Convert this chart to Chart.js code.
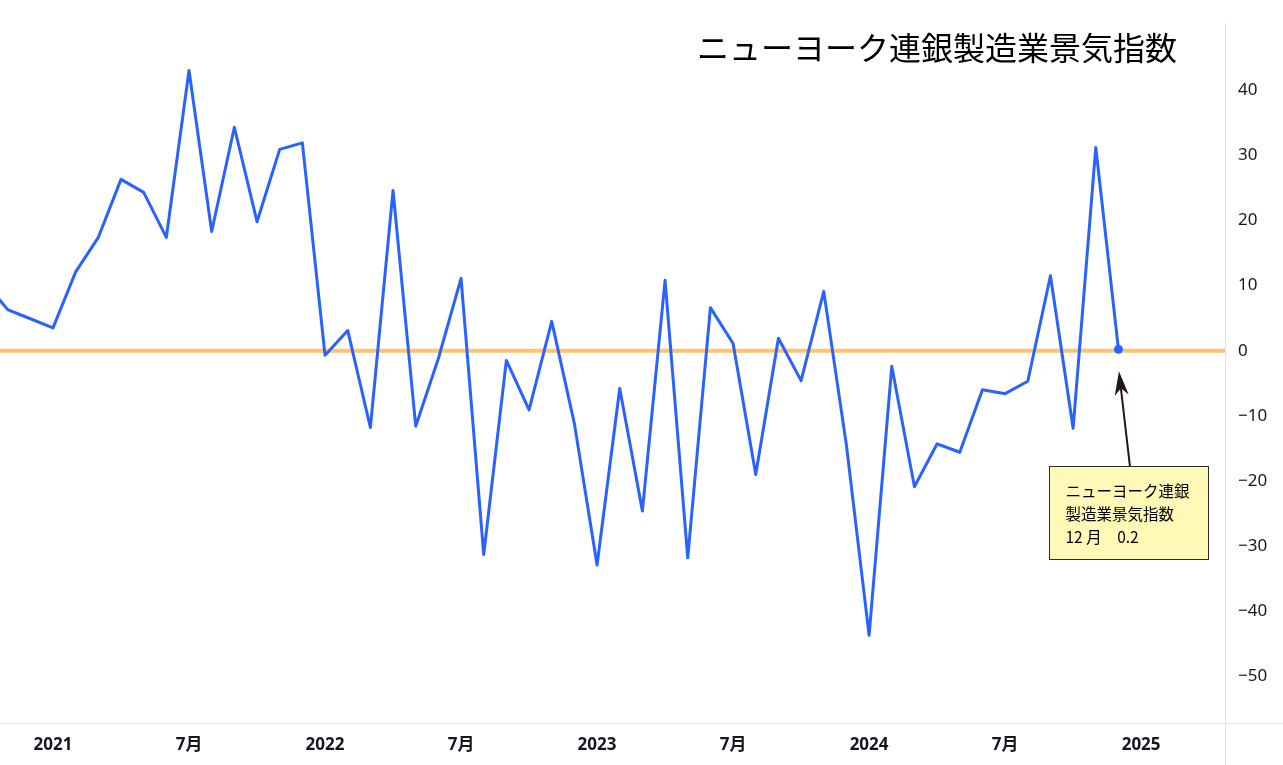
<!DOCTYPE html>
<html lang="ja">
<head>
<meta charset="utf-8">
<title>ニューヨーク連銀製造業景気指数</title>
<script src="https://cdn.jsdelivr.net/npm/chart.js@4"></script>
<style>
  html, body { margin: 0; padding: 0; background: #ffffff; }
  #wrap { width: 1283px; height: 765px; }
</style>
</head>
<body>
<div id="wrap"><canvas id="chart" width="1283" height="765"></canvas></div>
<script>
const titleText = 'ニューヨーク連銀製造業景気指数';

// monthly readings, Oct 2020 .. Dec 2024
const months = [
  '2020-10', '2020-11', '2020-12',
  '2021-01', '2021-02', '2021-03', '2021-04', '2021-05', '2021-06',
  '2021-07', '2021-08', '2021-09', '2021-10', '2021-11', '2021-12',
  '2022-01', '2022-02', '2022-03', '2022-04', '2022-05', '2022-06',
  '2022-07', '2022-08', '2022-09', '2022-10', '2022-11', '2022-12',
  '2023-01', '2023-02', '2023-03', '2023-04', '2023-05', '2023-06',
  '2023-07', '2023-08', '2023-09', '2023-10', '2023-11', '2023-12',
  '2024-01', '2024-02', '2024-03', '2024-04', '2024-05', '2024-06',
  '2024-07', '2024-08', '2024-09', '2024-10', '2024-11', '2024-12'
];
const values = [
  10.5, 6.3, 4.9,
  3.5, 12.1, 17.4, 26.3, 24.3, 17.4,
  43.0, 18.3, 34.3, 19.8, 30.9, 31.9,
  -0.7, 3.1, -11.8, 24.6, -11.6, -1.2,
  11.1, -31.3, -1.5, -9.1, 4.5, -11.2,
  -32.9, -5.8, -24.6, 10.8, -31.8, 6.6,
  1.1, -19.0, 1.9, -4.6, 9.1, -14.5,
  -43.7, -2.4, -20.9, -14.3, -15.6, -6.0,
  -6.6, -4.7, 11.5, -11.9, 31.2, 0.2
];

const xTicks = [0, 6, 12, 18, 24, 30, 36, 42, 48];
const xTickLabels = ['2021', '7月', '2022', '7月', '2023', '7月', '2024', '7月', '2025'];
const yTicks = [-50, -40, -30, -20, -10, 0, 10, 20, 30, 40];

const noteLines = ['ニューヨーク連銀', '製造業景気指数', '12 月　0.2'];

const colors = {
  line: '#2962ff',
  zero: '#ffc36e',
  text: '#131722',
  border: '#e0e3eb',
  noteFill: '#fff9b8',
  noteEdge: '#2b2b2b',
  arrow: '#231815'
};

function monthIndex(m) {
  const [y, mo] = m.split('-').map(Number);
  return (y - 2021) * 12 + (mo - 1);
}

const points = months.map((m, i) => ({ x: monthIndex(m), y: values[i] }));
const lastIdx = points.length - 1;

const decorations = {
  id: 'decorations',
  beforeDatasetsDraw(chart) {
    const { ctx, chartArea: a, scales: { y } } = chart;
    const y0 = y.getPixelForValue(0);
    ctx.save();
    ctx.strokeStyle = colors.zero;
    ctx.lineWidth = 4;
    ctx.beginPath();
    ctx.moveTo(a.left, y0);
    ctx.lineTo(a.right, y0);
    ctx.stroke();
    ctx.restore();
  },
  afterDraw(chart) {
    const { ctx, chartArea: a } = chart;
    const W = chart.width, H = chart.height;
    ctx.save();
    // frame lines
    ctx.strokeStyle = colors.border;
    ctx.lineWidth = 1;
    ctx.beginPath();
    ctx.moveTo(a.right + 0.5, a.top);
    ctx.lineTo(a.right + 0.5, H);
    ctx.moveTo(0, a.bottom + 0.5);
    ctx.lineTo(W, a.bottom + 0.5);
    ctx.stroke();

    // title
    ctx.fillStyle = '#000000';
    ctx.font = '400 32px "Noto Sans CJK JP", "Noto Sans"';
    ctx.textAlign = 'right';
    ctx.textBaseline = 'middle';
    ctx.fillText(titleText, 1177, 48);

    // note box + arrow for the last reading
    const pt = chart.getDatasetMeta(0).data[lastIdx];
    const px = pt.x, py = pt.y;
    const tipX = px + 0.5, tipY = py + 22;
    const baseX = px + 11.5, baseY = py + 117;
    const ang = Math.atan2(baseY - tipY, baseX - tipX);
    ctx.strokeStyle = colors.arrow;
    ctx.fillStyle = colors.arrow;
    ctx.lineWidth = 2;
    ctx.beginPath();
    ctx.moveTo(baseX, baseY);
    ctx.lineTo(tipX + Math.cos(ang) * 12, tipY + Math.sin(ang) * 12);
    ctx.stroke();
    const headLen = 24, headW = 7;
    const hx = tipX + Math.cos(ang) * headLen, hy = tipY + Math.sin(ang) * headLen;
    const nx = -Math.sin(ang), ny = Math.cos(ang);
    ctx.beginPath();
    ctx.moveTo(tipX, tipY);
    ctx.lineTo(hx + nx * headW, hy + ny * headW);
    ctx.lineTo(tipX + Math.cos(ang) * 17, tipY + Math.sin(ang) * 17);
    ctx.lineTo(hx - nx * headW, hy - ny * headW);
    ctx.closePath();
    ctx.fill();

    const bx = Math.round(px - 69.5) + 0.5, by = Math.round(py + 116.5) + 0.5;
    ctx.fillStyle = colors.noteFill;
    ctx.fillRect(bx, by, 159, 93);
    ctx.strokeStyle = colors.noteEdge;
    ctx.lineWidth = 1;
    ctx.strokeRect(bx, by, 159, 93);
    ctx.fillStyle = '#000000';
    ctx.font = '400 15.5px "Noto Sans CJK JP", "Noto Sans"';
    ctx.textAlign = 'left';
    ctx.textBaseline = 'middle';
    noteLines.forEach((t, i) => ctx.fillText(t, bx + 16, by + 25 + i * 23));
    ctx.restore();
  }
};

new Chart(document.getElementById('chart'), {
  type: 'line',
  data: {
    datasets: [{
      data: points,
      borderColor: colors.line,
      backgroundColor: colors.line,
      borderWidth: 3,
      borderJoinStyle: 'round',
      tension: 0,
      pointRadius: ctx => (ctx.dataIndex === lastIdx ? 4.5 : 0),
      pointHoverRadius: 0,
      pointBorderWidth: 0
    }]
  },
  options: {
    responsive: false,
    animation: false,
    events: [],
    layout: { autoPadding: false, padding: { top: 22, left: 0, right: 0, bottom: 0 } },
    plugins: {
      legend: { display: false },
      tooltip: { enabled: false },
      title: { display: false }
    },
    scales: {
      x: {
        type: 'linear',
        min: -2.338,
        max: 51.70,
        grid: { display: false, drawTicks: false },
        border: { display: false },
        afterBuildTicks: s => { s.ticks = xTicks.map(v => ({ value: v })); },
        afterFit: s => { s.height = 42; },
        ticks: {
          autoSkip: false,
          maxRotation: 0,
          padding: 12,
          color: colors.text,
          font: { family: '"Noto Sans", "Noto Sans CJK JP"', size: 17, weight: 'bold' },
          callback: v => xTickLabels[xTicks.indexOf(v)] ?? ''
        }
      },
      y: {
        position: 'right',
        min: -57.16,
        max: 50.27,
        grid: { display: false, drawTicks: false },
        border: { display: false },
        afterBuildTicks: s => { s.ticks = yTicks.map(v => ({ value: v })); },
        afterFit: s => { s.width = 58; },
        ticks: {
          padding: 13,
          color: colors.text,
          font: { family: '"Noto Sans"', size: 17 },
          callback: v => (v < 0 ? '\u2212' + Math.abs(v) : String(v))
        }
      }
    }
  },
  plugins: [decorations]
});
</script>
</body>
</html>
